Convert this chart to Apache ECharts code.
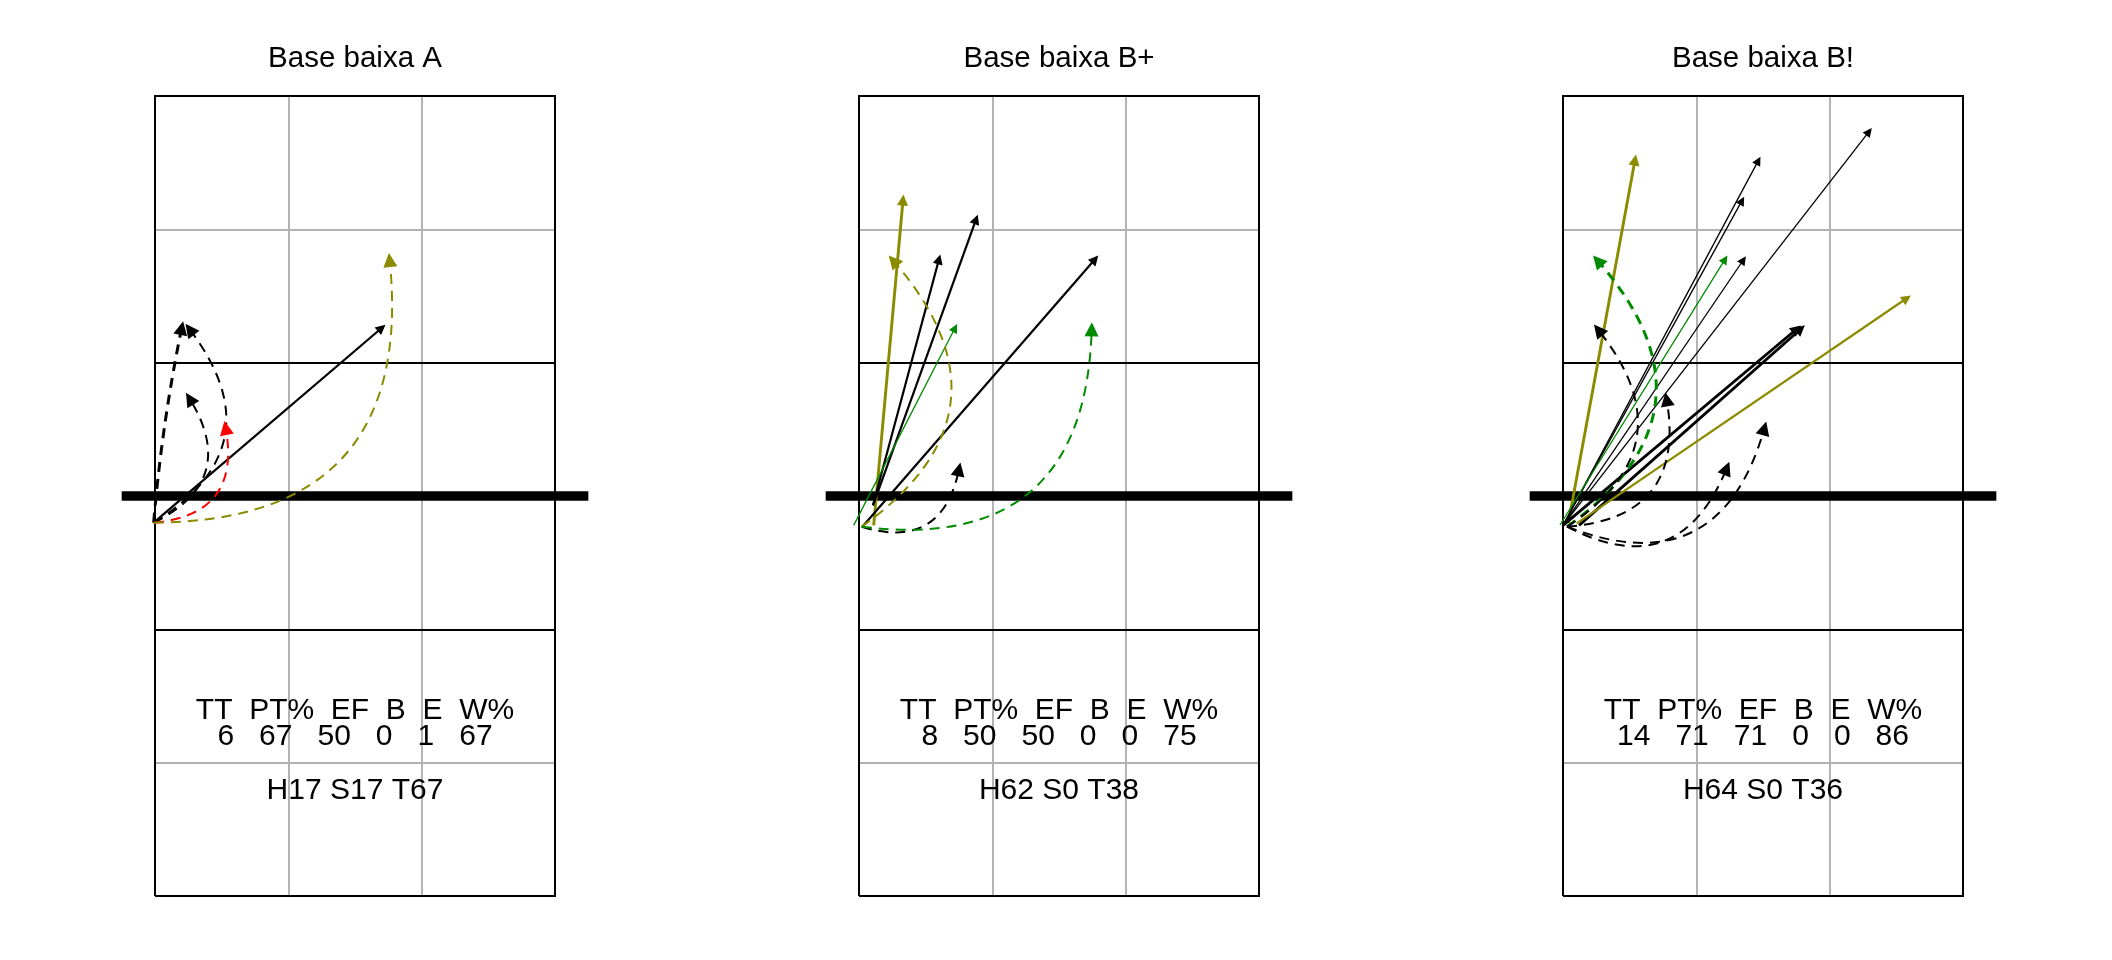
<!DOCTYPE html>
<html>
<head>
<meta charset="utf-8">
<script src="https://cdn.jsdelivr.net/npm/echarts@6/dist/echarts.min.js"></script>
<style>
html,body{margin:0;padding:0;background:#fff;}
#chart{width:2112px;height:960px;}
</style>
</head>
<body>
<div id="chart"></div>
<script>
// ---------- data ----------
const panelTitles = ['Base baixa A', 'Base baixa B+', 'Base baixa B!'];
const statLabels = ['TT', 'PT%', 'EF', 'B', 'E', 'W%'];
const statTT = [6, 8, 14];
const statPT = [67, 50, 71];
const statEF = [50, 50, 71];
const statB = [0, 0, 0];
const statE = [1, 0, 0];
const statW = [67, 75, 86];
const zoneH = [17, 62, 64];
const zoneS = [17, 0, 0];
const zoneT = [67, 38, 36];

// attacks: [fromX, fromY, toX, toY, kind(S=straight, C=curved, L=lob), code, tier]
const attacksA = [
  [0.49, 3.30, 2.20, 4.76, 'S', 'K', 2],
  [0.49, 3.30, 0.70, 4.76, 'L', 'K', 3],
  [0.49, 3.30, 0.76, 4.75, 'C', 'K', 2],
  [0.49, 3.30, 0.76, 4.23, 'C', 'K', 2],
  [0.49, 3.30, 1.03, 4.01, 'C', 'R', 2],
  [0.49, 3.30, 2.26, 5.27, 'C', 'Y', 2]
];
const attacksB = [
  [0.61, 3.28, 0.83, 5.72, 'S', 'Y', 3],
  [0.605, 3.43, 1.10, 5.275, 'S', 'K', 2],
  [0.605, 3.43, 1.378, 5.575, 'S', 'K', 2],
  [0.46, 3.28, 1.22, 4.76, 'S', 'G', 1],
  [0.53, 3.275, 2.27, 5.275, 'S', 'K', 2],
  [0.52, 3.27, 0.757, 5.265, 'C', 'Y', 2],
  [0.52, 3.27, 1.25, 3.70, 'C', 'K', 2],
  [0.52, 3.27, 2.245, 4.75, 'C', 'G', 2]
];
const attacksC = [
  [0.54, 3.295, 1.04, 6.02, 'S', 'Y', 3],
  [0.50, 3.28, 1.965, 6.015, 'S', 'K', 1],
  [0.50, 3.28, 1.8425, 5.715, 'S', 'K', 1],
  [0.50, 3.28, 2.795, 6.2325, 'S', 'K', 1],
  [0.4775, 3.2825, 1.715, 5.275, 'S', 'G', 1],
  [0.50, 3.28, 1.8525, 5.27, 'S', 'K', 1],
  [0.50, 3.28, 2.2525, 4.7525, 'S', 'K', 3],
  [0.62, 3.28, 2.283, 4.7525, 'S', 'K', 3],
  [0.603, 3.295, 3.078, 4.983, 'S', 'Y', 2],
  [0.53, 3.27, 0.76, 5.265, 'C', 'G', 3],
  [0.53, 3.27, 0.765, 4.745, 'C', 'K', 2],
  [0.53, 3.27, 1.2775, 4.225, 'C', 'K', 2],
  [0.53, 3.27, 1.7275, 3.7075, 'C', 'K', 2],
  [0.53, 3.27, 2.01, 4.0075, 'C', 'K', 2]
];
const attacksByPanel = [attacksA, attacksB, attacksC];

// court geometry (court units: 3 m per unit)
const courtGray = [
  [[1.5, 0.5], [1.5, 6.5]], [[2.5, 0.5], [2.5, 6.5]],
  [[0.5, 1.5], [3.5, 1.5]], [[0.5, 5.5], [3.5, 5.5]]
];
const courtBlack = [
  [[0.5, 2.5], [3.5, 2.5]], [[0.5, 4.5], [3.5, 4.5]]
];
const courtBorder = [[0.5, 0.5], [3.5, 0.5], [3.5, 6.5], [0.5, 6.5], [0.5, 0.5]];
const netLine = [[0.25, 3.5], [3.75, 3.5]];

// ---------- styles / layout ----------
const palette = { K: '#000000', Y: '#8B8B00', G: '#008B00', R: '#FF0000' };
const solidWidth = { 1: 1.3, 2: 2.2, 3: 2.9 };
const dashWidth = { 1: 1.5, 2: 2, 3: 3 };
const solidHead = { 1: 9, 2: 10, 3: 11 };
const bend = { S: 0, C: -0.55, L: 0.03 };
const PANEL_W = 704;
const GRID_LEFT0 = 121.67, GRID_TOP = 62.67, GRID_W = 466.67, GRID_H = 866.67;
const CENTER0 = 355;
const FONT = '"Liberation Sans", Arial, sans-serif';

const grids = [], xAxes = [], yAxes = [], series = [], graphics = [];
for (let p = 0; p < 3; p++) {
  grids.push({ left: GRID_LEFT0 + PANEL_W * p, top: GRID_TOP, width: GRID_W, height: GRID_H });
  xAxes.push({ gridIndex: p, type: 'value', min: 0.25, max: 3.75, show: false });
  yAxes.push({ gridIndex: p, type: 'value', min: 0.25, max: 6.75, show: false });
  const base = { type: 'lines', coordinateSystem: 'cartesian2d', xAxisIndex: p, yAxisIndex: p, silent: true, symbol: 'none', animation: false };
  series.push(Object.assign({}, base, {
    z: 1, data: courtGray.map(c => ({ coords: c })),
    lineStyle: { color: '#B3B3B3', width: 2, opacity: 1 }
  }));
  series.push(Object.assign({}, base, {
    z: 2, data: courtBlack.map(c => ({ coords: c })),
    lineStyle: { color: '#000', width: 2, opacity: 1 }
  }));
  series.push(Object.assign({}, base, {
    z: 2, polyline: true, data: [{ coords: courtBorder }],
    lineStyle: { color: '#000', width: 2, opacity: 1, join: 'miter' }
  }));
  series.push(Object.assign({}, base, {
    z: 3, data: [{ coords: netLine }],
    lineStyle: { color: '#000', width: 9.5, opacity: 1, cap: 'butt' }
  }));
  attacksByPanel[p].forEach((a, i) => {
    const curved = a[4] !== 'S';
    const size = curved ? 14 : solidHead[a[6]];
    series.push(Object.assign({}, base, {
      z: 5 + i,
      symbol: ['none', 'triangle'],
      symbolSize: size,
      symbolOffset: [0, size / 2],
      data: [{ coords: [[a[0], a[1]], [a[2], a[3]]] }],
      lineStyle: {
        color: palette[a[5]], opacity: 1,
        width: curved ? dashWidth[a[6]] : solidWidth[a[6]],
        type: curved ? [10, 7] : 'solid',
        curveness: bend[a[4]]
      }
    }));
  });
  const cx = CENTER0 + PANEL_W * p;
  const valueLine = [statTT[p], statPT[p], statEF[p], statB[p], statE[p], statW[p]].join('   ');
  const texts = [
    { t: panelTitles[p], y: 58.5, s: 29.5 },
    { t: statLabels.join('  '), y: 711, s: 30 },
    { t: valueLine, y: 737, s: 30 },
    { t: 'H' + zoneH[p] + ' S' + zoneS[p] + ' T' + zoneT[p], y: 791, s: 30 }
  ];
  texts.forEach(o => graphics.push({
    type: 'text', x: cx, y: o.y, silent: true, z: 100,
    style: { text: o.t, fill: '#000', fontSize: o.s, fontFamily: FONT, align: 'center', verticalAlign: 'middle' }
  }));
}

const chart = echarts.init(document.getElementById('chart'), null, { renderer: 'canvas' });
chart.setOption({
  backgroundColor: '#ffffff',
  animation: false,
  grid: grids,
  xAxis: xAxes,
  yAxis: yAxes,
  series: series,
  graphic: graphics
});
</script>
</body>
</html>
